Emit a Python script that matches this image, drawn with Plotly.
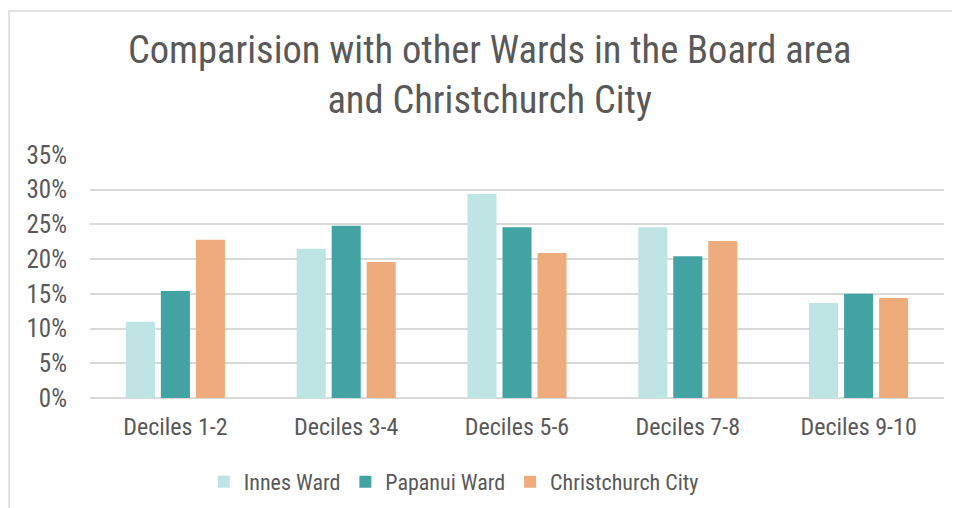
import plotly.graph_objects as go

categories = ["Deciles 1-2", "Deciles 3-4", "Deciles 5-6", "Deciles 7-8", "Deciles 9-10"]
innes_ward = [11.0, 21.5, 29.4, 24.6, 13.7]
papanui_ward = [15.4, 24.8, 24.6, 20.4, 15.0]
christchurch_city = [22.8, 19.6, 20.9, 22.6, 14.4]

series = [
    ("Innes Ward", innes_ward, "#BEE4E4"),
    ("Papanui Ward", papanui_ward, "#42A3A2"),
    ("Christchurch City", christchurch_city, "#EEAC7C"),
]

FONT = "Roboto Condensed, Liberation Sans Narrow, sans-serif"
TEXT = "#595959"

fig = go.Figure()
for name, vals, color in series:
    fig.add_trace(go.Bar(
        x=categories,
        y=[v / 100 for v in vals],
        name=name,
        marker_color=color,
        marker_line_width=0,
    ))

# page body has an 8px margin, so the figure is a bit smaller than the window
fig.update_layout(
    width=952,
    height=500,
    margin=dict(l=82, r=16, t=147, b=110),
    paper_bgcolor="white",
    plot_bgcolor="white",
    font=dict(family=FONT, color=TEXT, size=23),
    title=dict(
        text="Comparision with other Wards in the Board area<br>and Christchurch City",
        x=0.506, xanchor="center",
        y=0.89, yanchor="top",
        font=dict(size=38.5, color=TEXT, family=FONT),
    ),
    barmode="group",
    bargap=0.385,
    bargroupgap=0.17,
    showlegend=True,
    legend=dict(
        orientation="h",
        x=0.426, xanchor="center",
        yref="container",
        y=0.052, yanchor="middle",
        font=dict(size=22, color=TEXT),
    ),
    xaxis=dict(
        showgrid=False,
        showline=False,
        ticks="",
        ticklabelstandoff=12,
        tickfont=dict(size=24),
        automargin=False,
    ),
    yaxis=dict(
        range=[0, 0.35],
        dtick=0.05,
        tickformat=".0%",
        showgrid=True,
        gridcolor="#D9D9D9",
        gridwidth=1.5,
        zeroline=True,
        zerolinecolor="#D9D9D9",
        zerolinewidth=1.5,
        showline=False,
        ticks="",
        ticklabelstandoff=22,
        tickfont=dict(size=25),
        automargin=False,
    ),
)

# chart frame
fig.add_shape(
    type="rect", xref="paper", yref="paper",
    x0=-0.0948, x1=1.03, y0=-0.5, y1=1.593,
    line=dict(color="#D9D9D9", width=1.5),
    fillcolor="rgba(0,0,0,0)",
    layer="below",
)

fig.write_html("out.html")
